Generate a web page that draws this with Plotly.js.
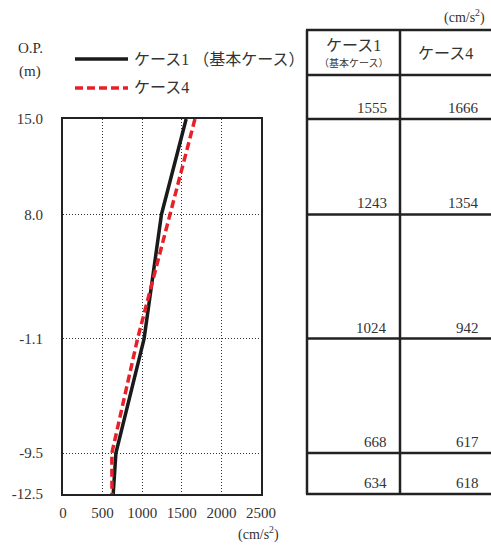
<!DOCTYPE html>
<html>
<head>
<meta charset="utf-8">
<script src="https://cdn.plot.ly/plotly-3.0.1.min.js"></script>
<style>html,body{margin:0;padding:0;background:#fff;}#chart{width:491px;height:545px;}</style>
</head>
<body>
<div id="chart"></div>
<script>
// ---- data ----
var levels = [15.0, 8.0, -1.1, -9.5, -12.5];           // O.P. (m)
var levelLabels = ['15.0', '8.0', '-1.1', '-9.5', '-12.5'];
var case1 = [1555, 1243, 1024, 668, 634];               // ケース1（基本ケース）
var case4 = [1666, 1354, 942, 617, 618];                // ケース4
var xTicks = [0, 500, 1000, 1500, 2000, 2500];
var seriesNames = ['ケース1', 'ケース4'];

// ---- layout geometry ----
var W = 491, H = 545;
var mL = 63, mR = 0, mT = 20, mB = 41;
var plotW = W - mL - mR, plotH = H - mT - mB;
var plotLeftPx = 63, plotRightPx = 261, plotTopPx = 119, plotBotPx = 494;
var xDom = [0, (plotRightPx - mL) / plotW];
var yDom = [(H - mB - plotBotPx) / plotH, (H - mB - plotTopPx) / plotH];
var yMin = -12.5, yMax = 15;
var pxPerUnit = (plotBotPx - plotTopPx) / (yMax - yMin);
function pxToY(py) { return yMax + (plotTopPx - py) / pxPerUnit; }
var y2Range = [pxToY(H - mB), pxToY(mT)];
var tblLeftPx = 303;
var x2Dom = [(tblLeftPx - mL) / plotW, 1];
var x2Range = [tblLeftPx, W];
function px2paperX(px) { return (px - mL) / plotW; }
function px2paperY(py) { return (H - mB - py) / plotH; }

var font = "'Liberation Serif', 'Noto Sans CJK JP', serif";
var txtColor = '#333';
var lineColor = '#222';

var traces = [
  {x: case1, y: levels, type: 'scatter', mode: 'lines', name: seriesNames[0],
   line: {color: '#1a1a1a', width: 3.5}, xaxis: 'x', yaxis: 'y', showlegend: false},
  {x: case4, y: levels, type: 'scatter', mode: 'lines', name: seriesNames[1],
   line: {color: '#e8202a', width: 3.5, dash: '8px,4px'}, xaxis: 'x', yaxis: 'y', showlegend: false},
  {x: [tblLeftPx, W], y: [0, 0], type: 'scatter', mode: 'none', xaxis: 'x2', yaxis: 'y2',
   showlegend: false, hoverinfo: 'skip'}
];

// table geometry
var colL = 307, colM = 400, colR = W;
var hdrTop = pxToY(30), hdrBot = pxToY(75);
var shapes = [];
var tl = {color: lineColor, width: 2.5};
[hdrTop, hdrBot].concat(levels).forEach(function (yv) {
  shapes.push({type: 'line', xref: 'x2', yref: 'y2', x0: colL - 1, x1: colR, y0: yv, y1: yv, line: tl});
});
[colL, colM].forEach(function (xv) {
  shapes.push({type: 'line', xref: 'x2', yref: 'y2', x0: xv, x1: xv, y0: hdrTop, y1: yMin, line: tl});
});
// legend samples
shapes.push({type: 'line', xref: 'paper', yref: 'paper', x0: px2paperX(75), x1: px2paperX(128),
  y0: px2paperY(59), y1: px2paperY(59), line: {color: '#1a1a1a', width: 3.5}});
shapes.push({type: 'line', xref: 'paper', yref: 'paper', x0: px2paperX(75), x1: px2paperX(128),
  y0: px2paperY(88), y1: px2paperY(88), line: {color: '#e8202a', width: 3.5, dash: '8px,4px'}});

var annotations = [];
function ann(o) {
  o.showarrow = false;
  if (!o.xanchor) o.xanchor = 'center';
  if (!o.yanchor) o.yanchor = 'middle';
  o.font = Object.assign({family: font, color: txtColor, size: 15}, o.font || {});
  annotations.push(o);
}
// table values
levels.forEach(function (lv, i) {
  ann({xref: 'x2', yref: 'y2', x: 389, y: lv, xanchor: 'right', yanchor: 'bottom', text: String(case1[i]), yshift: 1});
  ann({xref: 'x2', yref: 'y2', x: 481, y: lv, xanchor: 'right', yanchor: 'bottom', text: String(case4[i]), yshift: 1});
});
// table header
ann({xref: 'x2', yref: 'y2', x: (colL + colM) / 2, y: pxToY(45), text: seriesNames[0], font: {size: 16}});
ann({xref: 'x2', yref: 'y2', x: (colL + colM) / 2, y: pxToY(63), text: '（基本ケース）', font: {size: 10}});
ann({xref: 'x2', yref: 'y2', x: (colM + 491) / 2, y: pxToY(53), text: seriesNames[1], font: {size: 16}});
// units
ann({xref: 'paper', yref: 'paper', x: px2paperX(487), y: px2paperY(16), xanchor: 'right', text: '(cm/s<sup>2</sup>)', font: {size: 14}});
ann({xref: 'paper', yref: 'paper', x: px2paperX(281), y: px2paperY(533), xanchor: 'right', text: '(cm/s<sup>2</sup>)', font: {size: 14}});
ann({xref: 'paper', yref: 'paper', x: px2paperX(30), y: px2paperY(48), text: 'O.P.', font: {size: 15}});
ann({xref: 'paper', yref: 'paper', x: px2paperX(30), y: px2paperY(71), text: '(m)', font: {size: 15}});
// legend text
ann({xref: 'paper', yref: 'paper', x: px2paperX(132), y: px2paperY(59), xanchor: 'left', text: seriesNames[0] + ' （基本ケース）', font: {size: 16}});
ann({xref: 'paper', yref: 'paper', x: px2paperX(132), y: px2paperY(88), xanchor: 'left', text: seriesNames[1], font: {size: 16}});

var layout = {
  width: W, height: H,
  margin: {l: mL, r: mR, t: mT, b: mB, pad: 0},
  paper_bgcolor: '#fff', plot_bgcolor: 'rgba(0,0,0,0)',
  showlegend: false,
  font: {family: font, color: txtColor, size: 14},
  xaxis: {
    domain: xDom, range: [0, 2500], tickvals: xTicks, ticktext: xTicks.map(String),
    showgrid: true, gridcolor: '#333', gridwidth: 1, griddash: '1px,2px',
    zeroline: false, showline: true, mirror: true, linecolor: lineColor, linewidth: 2,
    ticks: 'outside', ticklen: 4, tickcolor: 'rgba(0,0,0,0)',
    tickfont: {family: font, size: 15, color: txtColor}, anchor: 'y', fixedrange: true
  },
  yaxis: {
    domain: yDom, range: [yMin, yMax], tickvals: levels, ticktext: levelLabels,
    showgrid: true, gridcolor: '#333', gridwidth: 1, griddash: '1px,2px',
    zeroline: false, showline: true, mirror: true, linecolor: lineColor, linewidth: 2,
    ticks: 'outside', ticklen: 15, tickcolor: 'rgba(0,0,0,0)',
    tickfont: {family: font, size: 15, color: txtColor}, anchor: 'x', fixedrange: true
  },
  xaxis2: {domain: x2Dom, range: x2Range, visible: false, anchor: 'y2', fixedrange: true},
  yaxis2: {domain: [0, 1], range: y2Range, visible: false, anchor: 'x2', fixedrange: true},
  shapes: shapes,
  annotations: annotations
};

Plotly.newPlot('chart', traces, layout, {staticPlot: true, displayModeBar: false});
</script>
</body>
</html>
